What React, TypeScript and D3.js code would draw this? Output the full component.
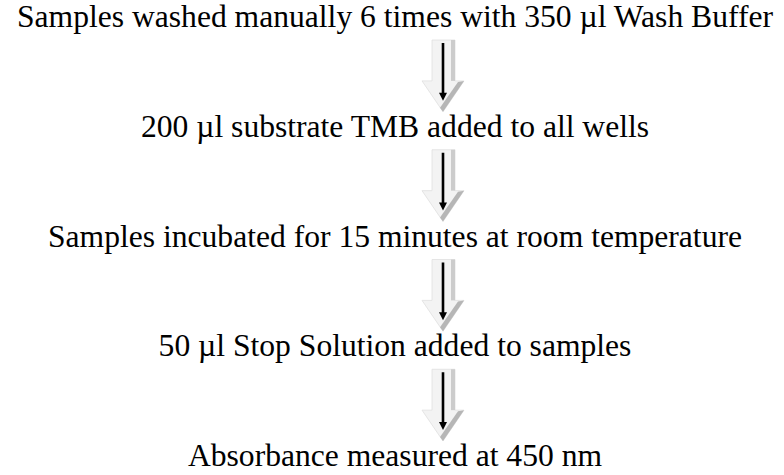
import * as d3 from 'd3';

const steps = [
  'Samples washed manually 6 times with 350 µl Wash Buffer',
  '200 µl substrate TMB added to all wells',
  'Samples incubated for 15 minutes at room temperature',
  '50 µl Stop Solution added to samples',
  'Absorbance measured at 450 nm',
];

const WIDTH = 784;
const HEIGHT = 475;
const TEXT_X = 395;
const ARROW_X = 443;
const FONT = "'Liberation Serif'";

function BlockArrow({ top, bottom }: { top: number; bottom: number }) {
  const h = bottom - top;
  const headY = top + h * 0.57;
  const shaftL = ARROW_X - 11;
  const shaftR = ARROW_X + 12;
  const headL = ARROW_X - 21;
  const headR = ARROW_X + 21;
  const outline = d3.path();
  outline.moveTo(shaftL, top);
  outline.lineTo(shaftR, top);
  outline.lineTo(shaftR, headY);
  outline.lineTo(headR, headY);
  outline.lineTo(ARROW_X, bottom);
  outline.lineTo(headL, headY);
  outline.lineTo(shaftL, headY);
  outline.closePath();

  // shaded right edge of the shaft and lower-right face of the head
  const edge = d3.path();
  edge.moveTo(shaftR - 4, top);
  edge.lineTo(shaftR, top);
  edge.lineTo(shaftR, headY);
  edge.lineTo(shaftR - 4, headY);
  edge.closePath();
  const face = d3.path();
  face.moveTo(headR, headY);
  face.lineTo(ARROW_X, bottom);
  face.lineTo(ARROW_X - 3, bottom - 4);
  face.lineTo(headR - 6, headY + 1);
  face.closePath();

  const lineTop = top + 3;
  const lineTip = bottom - 11;
  const inner = d3.path();
  inner.moveTo(ARROW_X - 4, lineTip - 8);
  inner.lineTo(ARROW_X + 4, lineTip - 8);
  inner.lineTo(ARROW_X, lineTip);
  inner.closePath();

  return (
    <g>
      <path d={outline.toString()} fill="#f3f3f3" stroke="#e0e0e0" strokeWidth={0.8} />
      <path d={edge.toString()} fill="#cccccc" />
      <path d={face.toString()} fill="#b6b6b6" />
      <rect x={ARROW_X - 1.3} y={lineTop} width={2.6} height={lineTip - lineTop - 6} fill="#000" />
      <path d={inner.toString()} fill="#000" />
    </g>
  );
}

export default function App() {
  const y = d3.scalePoint<number>()
    .domain(d3.range(steps.length))
    .range([27, 466]);

  return (
    <svg
      width={WIDTH}
      height={HEIGHT}
      style={{ position: 'absolute', left: 0, top: 0, background: '#fff' }}
    >
      {steps.slice(0, -1).map((_, i) => (
        <BlockArrow key={`a${i}`} top={(y(i) ?? 0) + 13} bottom={(y(i + 1) ?? 0) - 25} />
      ))}
      {steps.map((s, i) => (
        <text
          key={s}
          x={TEXT_X}
          y={y(i)}
          textAnchor="middle"
          style={{ fontFamily: FONT, fontSize: '31.6px' }}
          fill="#000"
        >
          {s}
        </text>
      ))}
    </svg>
  );
}
